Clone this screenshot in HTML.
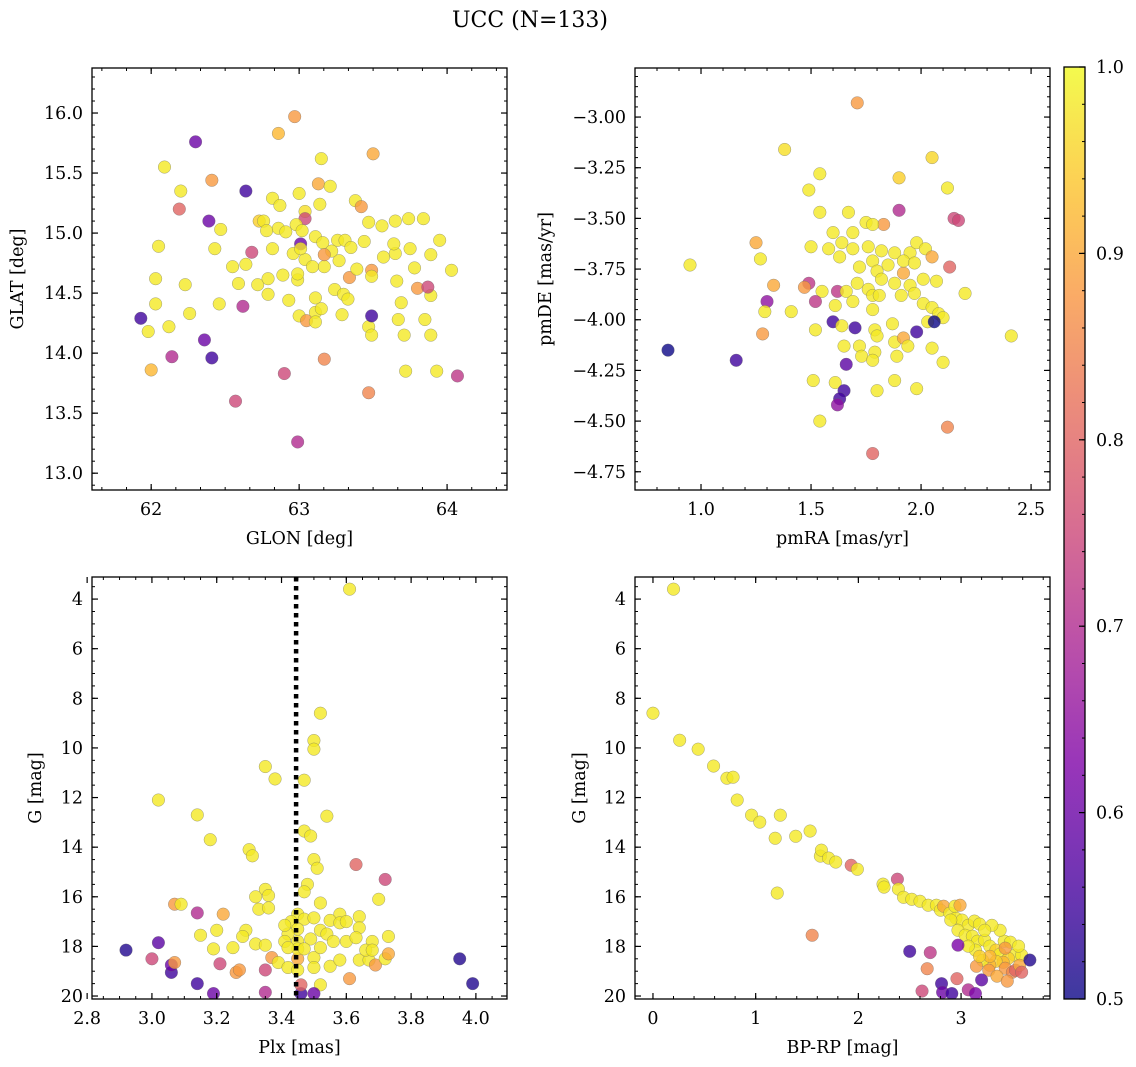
<!DOCTYPE html>
<html><head><meta charset="utf-8"><style>
html,body{margin:0;padding:0;background:#fff;}
svg{display:block;font-family:"DejaVu Serif","Liberation Serif",serif;}
</style></head><body>
<svg id="fig" width="1136" height="1067" viewBox="0 0 1136 1067" xmlns="http://www.w3.org/2000/svg">
<text x="530" y="27" font-size="22" text-anchor="middle">UCC (N=133)</text>
</svg>
<script>
// ---- Top-left: GLON vs GLAT ----
const tlGlon=[62.97,62.86,62.30,63.50,62.09,63.15,62.41,62.20,62.64,63.00,63.13,63.21,63.38,63.42,62.82,62.19,62.39,62.73,62.76,62.87,63.04,63.04,63.14,63.47,63.56,63.65,63.74,63.84,62.05,62.43,62.47,62.78,62.86,62.91,62.98,63.02,63.01,63.11,63.16,63.26,63.31,63.35,63.27,63.22,63.04,62.96,62.82,62.68,63.01,63.17,63.17,63.09,62.99,62.99,62.89,62.64,62.55,62.59,62.72,62.79,62.79,62.93,63.00,63.11,63.24,63.30,63.34,63.39,63.49,63.49,63.57,63.65,63.75,63.66,63.78,63.80,63.69,63.95,63.89,63.64,63.44,62.03,62.23,62.03,61.93,61.98,62.12,62.26,62.46,62.62,62.36,62.14,62.41,62.00,62.57,62.90,62.99,63.05,63.11,63.11,63.15,63.33,63.29,63.47,63.49,63.49,63.17,63.47,63.89,63.71,63.72,63.67,63.87,64.03,63.85,63.89,63.93,64.07,64.50];
const tlGlat=[15.97,15.83,15.76,15.66,15.55,15.62,15.44,15.35,15.35,15.33,15.41,15.39,15.27,15.22,15.29,15.20,15.10,15.10,15.10,15.23,15.18,15.12,15.24,15.09,15.06,15.10,15.12,15.12,14.89,14.87,15.03,15.02,15.04,15.01,15.07,15.02,14.91,14.97,14.92,14.94,14.94,14.88,14.77,14.85,14.78,14.83,14.87,14.84,14.87,14.72,14.82,14.72,14.61,14.66,14.65,14.74,14.72,14.58,14.57,14.62,14.49,14.44,14.31,14.46,14.53,14.49,14.63,14.70,14.69,14.64,14.80,14.83,14.87,14.60,14.71,14.54,14.42,14.94,14.82,14.91,14.93,14.62,14.57,14.41,14.29,14.18,14.22,14.33,14.41,14.39,14.11,13.97,13.96,13.86,13.60,13.83,13.26,14.27,14.34,14.26,14.37,14.45,14.32,14.22,14.15,14.31,13.95,13.67,14.48,14.15,13.85,14.28,14.55,14.69,14.28,14.15,13.85,13.81,14.69];
const tlC=[0.88,0.92,0.6,0.9,0.98,0.98,0.88,0.98,0.55,0.98,0.9,0.98,0.98,0.88,0.98,0.8,0.6,0.95,0.98,0.98,0.97,0.75,0.98,0.98,0.98,0.98,0.98,0.98,0.98,0.98,0.98,0.98,0.98,0.98,0.98,0.98,0.6,0.98,0.98,0.98,0.98,0.98,0.98,0.98,0.98,0.98,0.98,0.75,0.98,0.98,0.88,0.98,0.98,0.98,0.98,0.98,0.98,0.98,0.98,0.98,0.98,0.98,0.98,0.98,0.98,0.98,0.88,0.98,0.88,0.98,0.98,0.98,0.98,0.98,0.98,0.88,0.98,0.98,0.98,0.98,0.98,0.98,0.98,0.98,0.55,0.98,0.98,0.98,0.98,0.7,0.6,0.7,0.55,0.92,0.75,0.75,0.7,0.88,0.98,0.98,0.98,0.98,0.98,0.98,0.98,0.55,0.85,0.85,0.98,0.98,0.98,0.98,0.75,0.98,0.98,0.98,0.98,0.72,0.96];
// ---- Top-right: pmRA vs pmDE ----
const trPmra=[1.71,1.38,2.05,1.54,1.90,2.12,1.49,1.54,1.67,1.90,1.75,1.83,1.78,2.15,2.17,1.50,1.58,1.64,1.25,1.27,0.95,1.69,1.69,1.63,1.60,1.76,1.82,1.88,1.95,1.98,2.02,2.05,2.13,1.72,1.78,1.80,1.85,1.92,1.92,1.97,1.71,1.76,1.82,1.88,1.95,2.01,2.07,2.20,1.49,1.33,1.47,1.55,1.62,1.66,1.30,1.52,1.61,1.69,1.78,1.81,1.91,1.97,2.01,2.05,2.08,2.10,2.03,1.29,1.41,1.60,1.64,1.70,1.78,1.79,1.87,1.98,2.06,1.28,1.52,1.65,1.72,1.80,1.88,1.92,1.94,2.05,2.41,0.85,1.16,1.73,1.79,1.78,1.89,2.10,1.88,1.51,1.61,1.66,1.65,1.63,1.62,1.80,1.98,1.54,2.12,1.78];
const trPmde=[-2.93,-3.16,-3.20,-3.28,-3.30,-3.35,-3.36,-3.47,-3.47,-3.46,-3.52,-3.53,-3.53,-3.50,-3.51,-3.64,-3.65,-3.62,-3.62,-3.70,-3.73,-3.57,-3.65,-3.69,-3.57,-3.64,-3.66,-3.67,-3.67,-3.62,-3.65,-3.69,-3.74,-3.74,-3.71,-3.76,-3.73,-3.77,-3.71,-3.72,-3.82,-3.85,-3.80,-3.82,-3.83,-3.80,-3.81,-3.87,-3.82,-3.83,-3.84,-3.86,-3.86,-3.86,-3.91,-3.91,-3.93,-3.91,-3.88,-3.88,-3.88,-3.87,-3.92,-3.94,-3.97,-3.99,-4.01,-3.96,-3.96,-4.01,-4.03,-4.04,-3.95,-4.05,-4.02,-4.06,-4.01,-4.07,-4.05,-4.13,-4.13,-4.08,-4.11,-4.09,-4.13,-4.14,-4.08,-4.15,-4.20,-4.18,-4.16,-4.20,-4.18,-4.21,-4.30,-4.30,-4.31,-4.22,-4.35,-4.39,-4.42,-4.35,-4.34,-4.50,-4.53,-4.66];
const trC=[0.88,0.97,0.96,0.98,0.95,0.98,0.98,0.98,0.98,0.7,0.98,0.88,0.98,0.75,0.75,0.98,0.98,0.98,0.9,0.98,0.98,0.98,0.98,0.98,0.98,0.98,0.98,0.98,0.98,0.98,0.98,0.9,0.8,0.98,0.98,0.98,0.98,0.9,0.98,0.98,0.98,0.98,0.98,0.98,0.98,0.98,0.98,0.98,0.72,0.9,0.88,0.98,0.72,0.98,0.65,0.72,0.98,0.98,0.98,0.98,0.98,0.98,0.98,0.98,0.98,0.98,0.98,0.98,0.98,0.55,0.98,0.55,0.98,0.98,0.98,0.55,0.5,0.88,0.98,0.98,0.98,0.98,0.98,0.9,0.98,0.98,0.98,0.5,0.55,0.98,0.98,0.98,0.98,0.98,0.98,0.98,0.98,0.58,0.55,0.55,0.65,0.98,0.98,0.98,0.85,0.8];
// ---- Bottom-left: Plx vs G ----
const blPlx=[3.61,3.52,3.50,3.50,3.35,3.38,3.47,3.02,3.14,3.54,3.47,3.18,3.49,3.30,3.31,3.50,3.51,3.63,3.48,3.72,3.47,3.35,3.36,3.07,3.09,3.14,3.22,3.32,3.33,3.36,3.70,3.52,3.64,3.58,3.45,3.43,3.47,3.50,3.55,3.58,3.60,3.64,3.45,3.42,3.52,3.54,3.15,3.20,3.29,3.28,3.32,3.35,3.41,3.45,3.49,3.56,3.60,3.63,3.68,3.73,3.25,3.19,2.92,3.02,3.06,3.06,3.00,3.07,3.14,3.19,3.21,3.26,3.27,3.35,3.37,3.39,3.42,3.45,3.50,3.50,3.52,3.55,3.58,3.61,3.64,3.67,3.69,3.72,3.73,3.66,3.68,3.35,3.46,3.50,3.95,3.99,3.46,3.41,3.45,3.47,3.52,3.45,3.42];
const blG=[3.6,8.6,9.7,10.05,10.75,11.25,11.3,12.1,12.7,12.75,13.35,13.7,13.55,14.1,14.35,14.5,14.85,14.7,15.5,15.3,15.8,15.7,15.95,16.3,16.3,16.65,16.7,16.0,16.5,16.45,16.1,16.25,16.8,16.7,16.7,17.0,16.9,16.85,16.95,17.05,17.0,17.25,17.3,17.5,17.35,17.5,17.55,17.35,17.35,17.6,17.9,17.95,17.8,17.8,17.7,17.8,17.8,17.65,17.8,17.6,18.05,18.1,18.15,17.85,19.05,18.75,18.5,18.65,19.5,19.9,18.7,19.05,18.95,18.95,18.45,18.65,18.85,18.5,18.45,18.85,19.55,18.8,18.55,19.3,18.55,18.55,18.75,18.5,18.3,18.15,18.15,19.85,19.9,19.9,18.5,19.5,19.55,17.15,18.1,18.1,18.05,18.95,18.05];
const blC=[0.98,0.98,0.98,0.98,0.98,0.98,0.98,0.98,0.98,0.98,0.98,0.98,0.98,0.98,0.98,0.98,0.98,0.8,0.98,0.75,0.98,0.98,0.98,0.88,0.98,0.7,0.9,0.98,0.98,0.98,0.98,0.98,0.98,0.98,0.98,0.98,0.98,0.98,0.98,0.98,0.98,0.98,0.98,0.98,0.98,0.98,0.98,0.98,0.98,0.98,0.98,0.98,0.98,0.98,0.98,0.98,0.98,0.98,0.98,0.98,0.98,0.98,0.52,0.58,0.55,0.6,0.75,0.88,0.55,0.6,0.75,0.88,0.88,0.75,0.88,0.98,0.98,0.9,0.98,0.98,0.98,0.98,0.98,0.88,0.98,0.98,0.88,0.98,0.9,0.98,0.98,0.7,0.55,0.6,0.52,0.52,0.8,0.98,0.98,0.98,0.98,0.98,0.98];
// ---- Bottom-right: BP-RP vs G ----
const brBprp=[0.20,0.00,0.26,0.44,0.59,0.72,0.78,0.82,0.96,1.24,1.04,1.19,1.39,1.53,1.63,1.64,1.71,1.78,1.93,1.99,1.21,2.24,2.25,2.38,2.39,2.44,2.52,2.60,2.68,2.76,2.80,2.83,2.89,2.95,3.01,3.07,3.13,3.18,2.94,2.99,2.90,2.97,3.04,3.11,3.16,3.23,3.28,3.34,3.38,3.42,3.48,3.38,3.30,3.23,3.52,3.46,3.41,3.34,3.28,3.21,3.14,3.07,3.15,3.27,3.43,3.50,3.53,3.59,3.57,3.59,3.28,3.35,3.45,3.18,3.56,3.43,2.50,2.70,2.67,2.62,2.81,2.82,2.91,2.96,3.07,3.14,3.20,3.67,2.97,1.55];
const brG=[3.60,8.60,9.69,10.05,10.73,11.22,11.18,12.10,12.71,12.71,12.99,13.64,13.56,13.35,14.36,14.12,14.44,14.60,14.73,14.89,15.85,15.49,15.61,15.29,15.69,16.02,16.10,16.18,16.34,16.34,16.54,16.38,16.66,16.86,16.94,17.15,16.98,17.10,16.38,16.34,16.94,17.35,17.55,17.59,17.79,17.75,17.99,18.15,18.31,17.79,17.83,17.35,17.15,17.35,18.35,18.48,18.64,18.60,18.76,18.56,18.15,17.99,18.80,18.96,18.88,19.04,18.96,18.35,18.76,19.04,18.40,19.20,19.40,18.40,17.99,18.07,18.20,18.25,18.90,19.80,19.50,19.85,19.90,19.30,19.75,19.90,19.35,18.55,17.95,17.55];
const brC=[0.98,0.98,0.98,0.98,0.98,0.98,0.98,0.98,0.98,0.98,0.98,0.98,0.98,0.98,0.98,0.98,0.98,0.98,0.8,0.98,0.98,0.98,0.98,0.75,0.98,0.98,0.98,0.98,0.98,0.98,0.98,0.9,0.98,0.98,0.98,0.98,0.98,0.98,0.98,0.9,0.98,0.98,0.98,0.98,0.98,0.98,0.98,0.95,0.98,0.98,0.98,0.98,0.98,0.98,0.98,0.95,0.92,0.95,0.92,0.98,0.98,0.98,0.88,0.88,0.88,0.85,0.8,0.98,0.9,0.8,0.92,0.9,0.88,0.95,0.98,0.88,0.55,0.72,0.85,0.75,0.55,0.6,0.55,0.8,0.7,0.62,0.58,0.52,0.62,0.85];
// ---- Tick labels ----
const tlXTicks=[62,63,64];
const tlYTicks=[13.0,13.5,14.0,14.5,15.0,15.5,16.0];
const trXTicks=[1.0,1.5,2.0,2.5];
const trYTicks=[-3.00,-3.25,-3.50,-3.75,-4.00,-4.25,-4.50,-4.75];
const blXTicks=[2.8,3.0,3.2,3.4,3.6,3.8,4.0];
const gTicks=[4,6,8,10,12,14,16,18,20];
const brXTicks=[0,1,2,3];
const cbTicks=[0.5,0.6,0.7,0.8,0.9,1.0];
const plxMedian=3.445;

const NS="http://www.w3.org/2000/svg";
const svg=document.getElementById('fig');
function mk(tag,attrs,parent){const e=document.createElementNS(NS,tag);for(const k in attrs)e.setAttribute(k,attrs[k]);(parent||svg).appendChild(e);return e;}
const stops=[[0,[13,8,135]],[0.125,[76,2,161]],[0.25,[126,3,168]],[0.375,[169,35,149]],[0.5,[204,71,120]],[0.625,[229,107,93]],[0.75,[248,148,65]],[0.875,[253,195,40]],[1,[240,249,33]]];
function plasma(t){t=Math.max(0,Math.min(1,t));for(let i=1;i<stops.length;i++){if(t<=stops[i][0]){const a=stops[i-1],b=stops[i];const f=(t-a[0])/(b[0]-a[0]);const c=a[1].map((v,j)=>Math.round(v+(b[1][j]-v)*f));return `rgb(${c[0]},${c[1]},${c[2]})`;}}return 'rgb(240,249,33)';}
function cmap(v){return plasma((v-0.5)/0.5);}
const FS=17.5;

function panel(cfg){
  const g=mk('g',{});
  
  
  const {x0,x1,y0,y1,xd,yd}=cfg;
  const sx=v=>x0+(v-xd[0])/(xd[1]-xd[0])*(x1-x0);
  const sy=v=>y0+(v-yd[0])/(yd[1]-yd[0])*(y1-y0);
  const clipId=cfg.name+'-clip';
  const cp=mk('clipPath',{id:clipId},g);mk('rect',{x:x0,y:y0,width:x1-x0,height:y1-y0},cp);
  const pts=mk('g',{'clip-path':`url(#${clipId})`},g);
  
  
  for(let i=0;i<cfg.xs.length;i++){
    const c=mk('circle',{cx:sx(cfg.xs[i]),cy:sy(cfg.ys[i]),r:6.3,fill:cmap(cfg.cs[i]),'fill-opacity':0.8,stroke:'#666','stroke-opacity':0.6,'stroke-width':0.5},pts);
    
    
  }
  if(cfg.vline!==undefined){
    const l=mk('line',{x1:sx(cfg.vline),x2:sx(cfg.vline),y1:y0,y2:y1,stroke:'#000','stroke-width':4.5,'stroke-dasharray':'4.5,4.5'},g);
    
    
  }
  const lo=Math.min(xd[0],xd[1]),hi=Math.max(xd[0],xd[1]);
  for(let v=Math.ceil(lo/cfg.xm-1e-6)*cfg.xm;v<=hi+1e-9;v+=cfg.xm){const px=sx(v);mk('line',{x1:px,x2:px,y1:y1,y2:y1-3,stroke:'#000','stroke-width':1},g);mk('line',{x1:px,x2:px,y1:y0,y2:y0+3,stroke:'#000','stroke-width':1},g);}
  const ylo=Math.min(yd[0],yd[1]),yhi=Math.max(yd[0],yd[1]);
  for(let v=Math.ceil(ylo/cfg.ym-1e-6)*cfg.ym;v<=yhi+1e-9;v+=cfg.ym){const py=sy(v);mk('line',{x1:x0,x2:x0+3,y1:py,y2:py,stroke:'#000','stroke-width':1},g);mk('line',{x1:x1,x2:x1-3,y1:py,y2:py,stroke:'#000','stroke-width':1},g);}
  cfg.xt.forEach(v=>{const px=sx(v);mk('line',{x1:px,x2:px,y1:y1,y2:y1-6,stroke:'#000','stroke-width':1.2},g);mk('line',{x1:px,x2:px,y1:y0,y2:y0+6,stroke:'#000','stroke-width':1.2},g);
    const t=mk('text',{x:px,y:y1+25,'font-size':FS,'text-anchor':'middle'},g);t.textContent=cfg.xf(v);
    
    });
  cfg.yt.forEach(v=>{const py=sy(v);mk('line',{x1:x0,x2:x0+6,y1:py,y2:py,stroke:'#000','stroke-width':1.2},g);mk('line',{x1:x1,x2:x1-6,y1:py,y2:py,stroke:'#000','stroke-width':1.2},g);
    const t=mk('text',{x:x0-9,y:py+6,'font-size':FS,'text-anchor':'end'},g);t.textContent=cfg.yf(v);
    
    });
  mk('rect',{x:x0,y:y0,width:x1-x0,height:y1-y0,fill:'none',stroke:'#000','stroke-width':1.3},g);
  const xl=mk('text',{x:(x0+x1)/2,y:y1+54,'font-size':FS,'text-anchor':'middle'},g);xl.textContent=cfg.xlabel;
  
  
  const yl=mk('text',{x:0,y:0,'font-size':FS,'text-anchor':'middle',transform:`translate(${cfg.ylx},${(y0+y1)/2}) rotate(-90)`},g);yl.textContent=cfg.ylabel;
  
  
}
const minus=s=>s.replace('-','\u2212');
panel({name:'glon-glat-panel',x0:92,x1:507,y0:68,y1:490,xd:[61.60,64.405],yd:[16.375,12.86],xs:tlGlon,ys:tlGlat,cs:tlC,xt:tlXTicks,yt:tlYTicks,xm:1/6,ym:0.1,xf:v=>String(v),yf:v=>v.toFixed(1),xlabel:'GLON [deg]',ylabel:'GLAT [deg]',ylx:23});
panel({name:'pmra-pmde-panel',x0:635,x1:1050,y0:68,y1:490,xd:[0.70,2.586],yd:[-2.758,-4.84],xs:trPmra,ys:trPmde,cs:trC,xt:trXTicks,yt:trYTicks,xm:0.1,ym:0.05,xf:v=>v.toFixed(1),yf:v=>minus(v.toFixed(2)),xlabel:'pmRA [mas/yr]',ylabel:'pmDE [mas/yr]',ylx:551});
panel({name:'plx-g-panel',x0:92,x1:507,y0:577,y1:999,xd:[2.815,4.096],yd:[3.11,20.12],xs:blPlx,ys:blG,cs:blC,xt:blXTicks,yt:gTicks,xm:0.05,ym:0.5,xf:v=>v.toFixed(1),yf:v=>String(v),xlabel:'Plx [mas]',ylabel:'G [mag]',ylx:41,vline:plxMedian});
panel({name:'bprp-g-panel',x0:635,x1:1050,y0:577,y1:999,xd:[-0.175,3.866],yd:[3.11,20.12],xs:brBprp,ys:brG,cs:brC,xt:brXTicks,yt:gTicks,xm:0.2,ym:0.5,xf:v=>String(v),yf:v=>String(v),xlabel:'BP-RP [mag]',ylabel:'G [mag]',ylx:585});

// colorbar
const cb=mk('g',{});


const defs=mk('defs',{},cb);
const lg=mk('linearGradient',{id:'cbgrad',x1:0,y1:1,x2:0,y2:0},defs);
for(let i=0;i<=20;i++){mk('stop',{offset:i/20,'stop-color':plasma(i/20),'stop-opacity':0.8},lg);}
const cbx0=1064,cbx1=1085,cby0=67,cby1=999;
mk('rect',{x:cbx0,y:cby0,width:cbx1-cbx0,height:cby1-cby0,fill:'url(#cbgrad)'},cb);
const cy=v=>cby1-(v-0.5)/0.5*(cby1-cby0);
for(let k=0;k<=25;k++){const v=0.5+k*0.02;const py=cy(v);mk('line',{x1:cbx1,x2:cbx1-3,y1:py,y2:py,stroke:'#000','stroke-width':1},cb);}
cbTicks.forEach(v=>{const py=cy(v);mk('line',{x1:cbx1,x2:cbx1-6,y1:py,y2:py,stroke:'#000','stroke-width':1.2},cb);
  const t=mk('text',{x:cbx1+11,y:py+6,'font-size':FS},cb);t.textContent=v.toFixed(1);
  
  });
mk('rect',{x:cbx0,y:cby0,width:cbx1-cbx0,height:cby1-cby0,fill:'none',stroke:'#000','stroke-width':1.3},cb);
</script>
</body></html>
